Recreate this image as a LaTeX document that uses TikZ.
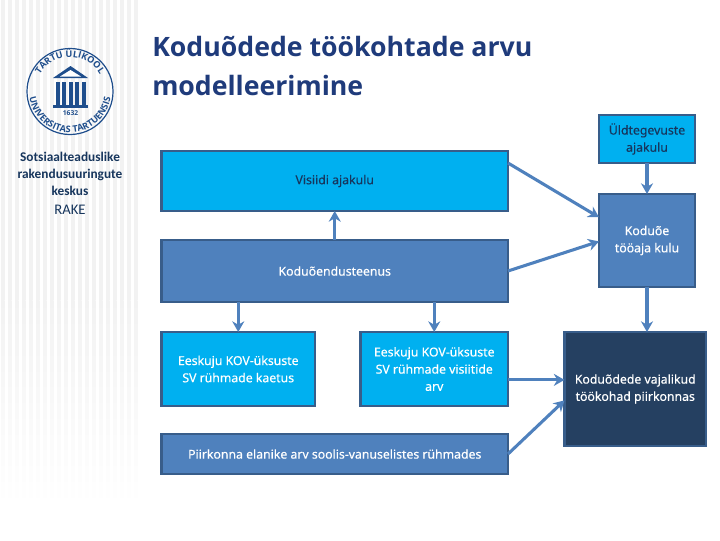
\documentclass[tikz,border=0pt]{standalone}
\usepackage{fontspec}
\setmainfont{Open Sans}
\newfontfamily\calfont{Carlito}
\newfontfamily\nodefont{Noto Sans}[FakeBold=0.35]
\usetikzlibrary{calc,decorations.text,arrows.meta}
\definecolor{titlecol}{HTML}{1F3B7B}
\definecolor{navytext}{HTML}{17365D}
\definecolor{cyanbox}{HTML}{00B0F0}
\definecolor{midbox}{HTML}{4F81BD}
\definecolor{edgecol}{HTML}{385D8A}
\definecolor{darkbox}{HTML}{254061}
\definecolor{logocol}{HTML}{1F4E8C}
\definecolor{stripecol}{HTML}{F2F2F2}
\tikzset{
  x=0.75pt,y=-0.75pt,
  pxw/.style={minimum width=#1*0.75pt},
  pxh/.style={minimum height=#1*0.75pt},
  boxbase/.style={draw=edgecol,line width=2.2pt,inner sep=0pt,outer sep=0pt,align=center,font=\nodefont\fontsize{9.2}{12.9}\selectfont,anchor=north west},
  cyanstyle/.style={boxbase,fill=cyanbox},
  midstyle/.style={boxbase,fill=midbox,text=white},
  darkstyle/.style={boxbase,fill=darkbox,text=white},
  conn/.style={draw=midbox,line width=2.3pt,-{Stealth[length=8pt,width=9pt]}},
}
\begin{document}
\begin{tikzpicture}
\useasboundingbox (0,0) rectangle (720,540);
\fill[white] (0,0) rectangle (720,540);
\foreach \s in {1,8,...,134}{\fill[stripecol] (\s,0) rectangle (\s+3.5,300);
  \shade[top color=stripecol,bottom color=white] (\s,300) rectangle (\s+3.5,505);}
% logo
\draw[logocol,line width=0.9pt] (70,91.5) circle (43);
\fill[logocol] (70.5,66) -- (88,78) -- (53,78) -- cycle;
\fill[white] (70.5,70) -- (81,76.5) -- (60,76.5) -- cycle;
\foreach \s in {55.5,62,68.5,75,81.5}{\fill[logocol] (\s,81.5) rectangle (\s+4,105);}
\fill[logocol] (53,105) rectangle (88,108);
\node[text=logocol,font=\fontsize{5}{6}\selectfont\bfseries,inner sep=0pt] (yr) at (70.5,113) {1632};
\path[decorate,decoration={text along path,text align=center,text={|\fontsize{6.8}{7}\selectfont\bfseries\color{logocol}|TARTU ÜLIKOOL}}]
  (35.5,91.5) arc[start angle=180,end angle=360,radius=34.5];
\path[decorate,decoration={text along path,text align=center,text={|\fontsize{6.8}{7}\selectfont\bfseries\color{logocol}|UNIVERSITAS TARTUENSIS}}]
  (29,91.5) arc[start angle=180,end angle=0,radius=41];
\node[text=navytext,align=center,inner sep=0pt,font=\calfont\fontsize{10}{12.8}\selectfont\bfseries] (org) at (70,174) {Sotsiaalteaduslike\\rakendusuuringute\\keskus};
\node[text=navytext,inner sep=0pt,font=\calfont\fontsize{11}{12}\selectfont] (rake) at (70,210) {RAKE};
% title
\node[anchor=north west,align=left,inner sep=0pt,text=titlecol,font=\fontsize{20}{29}\selectfont\bfseries] (title) at (152,36) {Koduõdede töökohtade arvu\\modelleerimine};
% boxes
\node[cyanstyle,text=navytext,pxw=96,pxh=48] (yld) at (599,115) {Üldtegevuste\\ajakulu};
\node[cyanstyle,text=navytext,pxw=346.5,pxh=60] (vis) at (161.5,151) {Visiidi ajakulu};
\node[midstyle,pxw=96,pxh=93] (koe) at (599,194) {Koduõe\\tööaja kulu};
\node[midstyle,pxw=346.5,pxh=62] (ken) at (161.5,240) {Koduõendusteenus};
\node[cyanstyle,text=white,pxw=153.5,pxh=74] (ee1) at (161.5,332) {Eeskuju KOV-üksuste\\SV rühmade kaetus};
\node[cyanstyle,text=white,pxw=147.5,pxh=74] (ee2) at (360.5,332) {Eeskuju KOV-üksuste\\SV rühmade visiitide\\arv};
\node[midstyle,pxw=346.5,pxh=40] (pii) at (161.5,434) {Piirkonna elanike arv soolis-vanuselistes rühmades};
\node[darkstyle,pxw=141.5,pxh=114] (dar) at (564.5,332) {Koduõdede vajalikud\\töökohad piirkonnas};
% connectors
\draw[conn] (yld.south) -- (koe.north);
\draw[conn] ($(vis.south east)!0.8!(vis.north east)$) -- ($(koe.north west)!0.25!(koe.south west)$);
\draw[conn] (ken.east) -- ($(koe.north west)!0.51!(koe.south west)$);
\draw[conn] (koe.south) -- (koe.south |- dar.north);
\draw[conn] (ken.north) -- (vis.south);
\draw[conn] (ee1.north |- ken.south) -- (ee1.north);
\draw[conn] (ee2.north |- ken.south) -- (ee2.north);
\coordinate (toDark) at ($(dar.north west)!0.42!(dar.south west)$);
\draw[conn] (ee2.east |- toDark) -- (toDark);
\draw[conn] (pii.east) -- ($(dar.north west)!0.6!(dar.south west)$);
\end{tikzpicture}
\end{document}
